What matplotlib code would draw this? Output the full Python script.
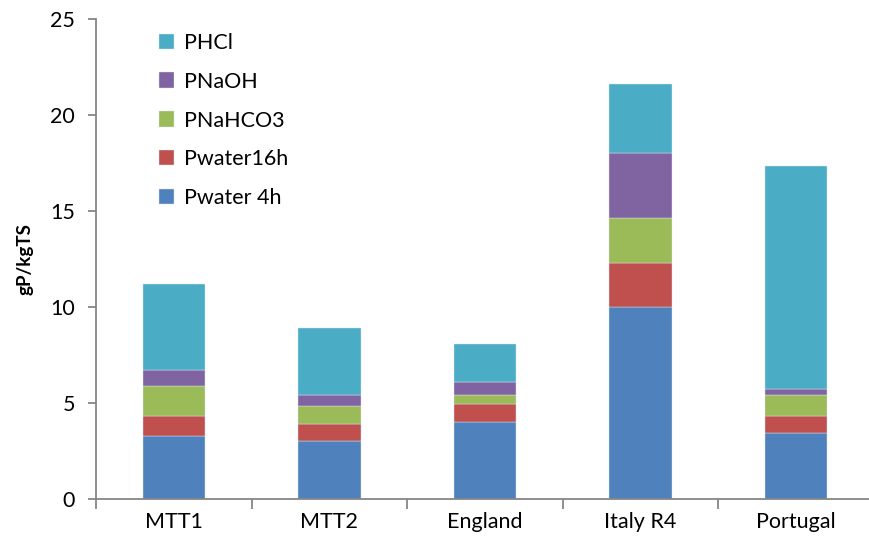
import numpy as np
import matplotlib.pyplot as plt

plt.rcParams['font.family'] = ['Lato', 'DejaVu Sans']

sites = ["MTT1", "MTT2", "England", "Italy R4", "Portugal"]
# cumulative readings converted to segment values
p_water4h = [3.27, 3.02, 4.03, 10.00, 3.42]
p_water16h = [1.04, 0.87, 0.92, 2.28, 0.89]
p_nahco3 = [1.58, 0.94, 0.45, 2.36, 1.11]
p_naoh = [0.82, 0.59, 0.70, 3.39, 0.31]
p_hcl = [4.49, 3.47, 1.95, 3.58, 11.59]

series = [
    ("Pwater 4h", p_water4h, "#4F81BD"),
    ("Pwater16h", p_water16h, "#C0504D"),
    ("PNaHCO3", p_nahco3, "#9BBB59"),
    ("PNaOH", p_naoh, "#8064A2"),
    ("PHCl", p_hcl, "#4BACC6"),
]

fig = plt.figure(figsize=(8.69, 5.5), dpi=100)
ax = fig.add_axes([96/869, 51/550, 778/869, 480/550])

x = np.arange(len(sites))
bottom = np.zeros(len(sites))
handles = []
for name, vals, col in series:
    h = ax.bar(x, vals, 0.4, bottom=bottom, color=col, label=name,
               edgecolor="#dce6f2", linewidth=0.3)
    bottom += np.array(vals)
    handles.append(h)

axis_col = "#868686"
ax.set_xlim(-0.5, len(sites) - 0.5)
ax.set_ylim(0, 25)
ax.set_yticks([0, 5, 10, 15, 20, 25])
ax.set_xticks(x)
ax.set_xticklabels(sites)
ax.set_xticks(np.arange(-0.5, len(sites), 1), minor=True)
ax.tick_params(axis="x", which="major", length=0, pad=9, labelsize=15.5)
ax.tick_params(axis="x", which="minor", length=7, width=1.3, color=axis_col)
ax.tick_params(axis="y", length=6, width=1.3, color=axis_col, labelsize=15.5, pad=9)
for s in ["top", "right"]:
    ax.spines[s].set_visible(False)
for s in ["left", "bottom"]:
    ax.spines[s].set_color(axis_col)
    ax.spines[s].set_linewidth(1.3)

ax.set_ylabel("gP/kgTS", fontsize=13.5, fontweight="bold", labelpad=12)

leg = ax.legend(handles[::-1], [s[0] for s in series][::-1], loc="upper left",
                bbox_to_anchor=(0.056, 1.012), frameon=False, fontsize=15.5,
                handlelength=0.7, handleheight=0.7, handletextpad=0.45,
                labelspacing=0.88)

fig.savefig("out.png", dpi=100)
